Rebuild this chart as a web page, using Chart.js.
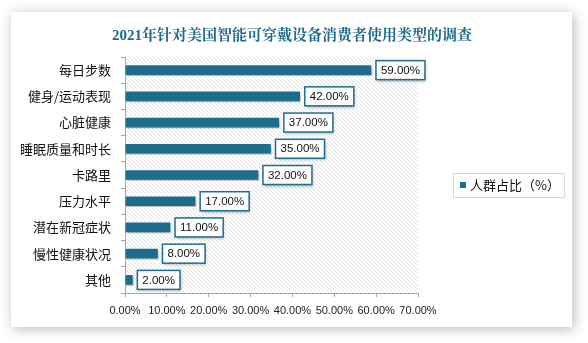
<!DOCTYPE html>
<html>
<head>
    <meta charset="utf-8">
    <title>2021年针对美国智能可穿戴设备消费者使用类型的调查</title>
    <script src="https://cdn.jsdelivr.net/npm/chart.js"></script>
    <style>
        html, body { margin: 0; padding: 0; background: #fff; }
        #wrap { width: 588px; height: 343px; position: relative; }
    </style>
</head>
<body>
    <div id="wrap"><canvas id="usageChart"></canvas></div>

    <script>
        const chartTitle = '2021年针对美国智能可穿戴设备消费者使用类型的调查';
        const categories = ['每日步数', '健身/运动表现', '心脏健康', '睡眠质量和时长', '卡路里', '压力水平', '潜在新冠症状', '慢性健康状况', '其他'];
        const shares = [59, 42, 37, 35, 32, 17, 11, 8, 2];
        const seriesName = '人群占比（%）';
        const xTicks = [0, 10, 20, 30, 40, 50, 60, 70];

        const teal = '#1f6d8e';
        const cjk = '"Noto Sans CJK SC", "Liberation Sans", sans-serif';

        // card, shadow and hatched plot background
        const backdrop = {
            id: 'backdrop',
            beforeDraw(chart) {
                const ctx = chart.ctx;
                const area = chart.chartArea;
                ctx.save();
                ctx.fillStyle = '#fff';
                ctx.fillRect(0, 0, chart.width, chart.height);
                ctx.shadowColor = 'rgba(0,0,0,0.28)';
                ctx.shadowBlur = 12;
                ctx.shadowOffsetX = 2;
                ctx.shadowOffsetY = 2;
                ctx.fillRect(11, 12, 561, 315);
                ctx.restore();

                ctx.save();
                ctx.beginPath();
                ctx.rect(area.left, area.top, area.right - area.left, area.bottom - area.top);
                ctx.clip();
                ctx.strokeStyle = '#e2e2e2';
                ctx.lineWidth = 1;
                const h = area.bottom - area.top;
                ctx.beginPath();
                for (let x = area.left - h; x < area.right; x += 4) {
                    ctx.moveTo(x, area.top);
                    ctx.lineTo(x + h, area.bottom);
                }
                ctx.stroke();
                ctx.restore();

                ctx.save();
                ctx.fillStyle = '#1d6a8b';
                ctx.font = 'bold 15px "Liberation Serif", "Noto Serif CJK SC", "Noto Sans CJK SC", serif';
                ctx.textAlign = 'center';
                ctx.textBaseline = 'middle';
                ctx.fillText(chartTitle, 292, 36);
                ctx.restore();
            },
            beforeDatasetsDraw(chart) {
                const ctx = chart.ctx;
                ctx.save();
                ctx.shadowColor = 'rgba(0,0,0,0.35)';
                ctx.shadowBlur = 3;
                ctx.shadowOffsetX = 1;
                ctx.shadowOffsetY = 2;
            },
            afterDatasetsDraw(chart) {
                const ctx = chart.ctx;
                ctx.restore();

                // value boxes next to each bar
                const meta = chart.getDatasetMeta(0);
                const values = chart.data.datasets[0].data;
                ctx.save();
                ctx.font = '11.5px "Liberation Sans", sans-serif';
                meta.data.forEach((bar, i) => {
                    const text = values[i].toFixed(2) + '%';
                    const w = ctx.measureText(text).width + 10;
                    const bx = bar.x + 4;
                    const by = bar.y - 9.5;
                    ctx.save();
                    ctx.shadowColor = 'rgba(0,0,0,0.3)';
                    ctx.shadowBlur = 3;
                    ctx.shadowOffsetX = 1;
                    ctx.shadowOffsetY = 2;
                    ctx.fillStyle = '#fff';
                    ctx.fillRect(bx, by, w, 19);
                    ctx.restore();
                    ctx.strokeStyle = teal;
                    ctx.lineWidth = 1.5;
                    ctx.strokeRect(bx, by, w, 19);
                    ctx.fillStyle = '#111';
                    ctx.textBaseline = 'middle';
                    ctx.fillText(text, bx + 5, bar.y + 0.5);
                });
                ctx.restore();

                // legend box
                ctx.save();
                ctx.strokeStyle = '#d9d9d9';
                ctx.lineWidth = 1;
                ctx.strokeRect(453.5, 173.5, 111, 24);
                ctx.fillStyle = teal;
                ctx.fillRect(460, 182, 6, 6);
                ctx.fillStyle = '#111';
                ctx.font = '13px ' + cjk;
                ctx.textBaseline = 'middle';
                ctx.fillText(chart.data.datasets[0].label, 470, 185.5);
                ctx.restore();
            }
        };

        new Chart(document.getElementById('usageChart'), {
            type: 'bar',
            data: {
                labels: categories,
                datasets: [{
                    label: seriesName,
                    data: shares,
                    backgroundColor: teal,
                    borderColor: '#ffffff',
                    borderWidth: 1,
                    barThickness: 11
                }]
            },
            options: {
                indexAxis: 'y',
                responsive: true,
                maintainAspectRatio: false,
                animation: false,
                layout: { padding: { top: 57, right: 170, bottom: 0, left: 0 } },
                plugins: {
                    legend: { display: false },
                    tooltip: { enabled: false }
                },
                scales: {
                    x: {
                        min: 0,
                        max: 70,
                        afterFit: s => { s.height = 50; },
                        afterBuildTicks: s => { s.ticks = xTicks.map(v => ({ value: v })); },
                        grid: { drawOnChartArea: false, tickLength: 4, color: '#a6a6a6' },
                        border: { color: '#a6a6a6' },
                        ticks: {
                            padding: 7,
                            color: '#222',
                            maxRotation: 0,
                            autoSkip: false,
                            font: { size: 11, family: '"Liberation Sans", sans-serif' },
                            callback: v => v.toFixed(2) + '%'
                        }
                    },
                    y: {
                        afterFit: s => { s.width = 125; },
                        grid: { drawOnChartArea: false, tickLength: 4, color: '#a6a6a6', offset: true },
                        border: { color: '#a6a6a6' },
                        ticks: {
                            padding: 10,
                            color: '#111',
                            font: { size: 13, family: cjk }
                        }
                    }
                }
            },
            plugins: [backdrop]
        });
    </script>
</body>
</html>
